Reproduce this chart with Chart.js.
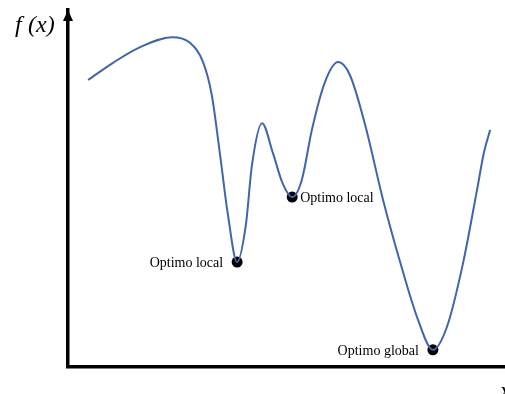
<!DOCTYPE html>
<html lang="es">
<head>
<meta charset="UTF-8">
<title>Optimos de f(x)</title>
<style>
  html, body { margin: 0; padding: 0; background: #fff; }
  #wrap { width: 505px; height: 394px; }
</style>
</head>
<body>
<div id="wrap"><canvas id="myChart" width="505" height="394"></canvas></div>
<script src="https://cdn.jsdelivr.net/npm/chart.js"></script>
<script>
// curva f(x)
const curveX = [4.6, 10.3, 16.5, 23.8, 27.9, 30.9, 32.9, 34.8, 36.6, 38.7, 40.7, 42.1, 44.4, 46.9, 49.0, 51.3, 53.5, 55.8, 58.8, 61.8, 64.5, 68.0, 72.1, 76.0, 80.1, 83.5, 86.7, 90.4, 93.6, 95.2, 96.6];
const curveY = [80.4, 85.2, 89.6, 92.4, 90.8, 85.4, 76.2, 59.4, 42.6, 29.4, 39.8, 56.6, 68.3, 59.9, 51.8, 47.6, 52.4, 66.4, 79.8, 85.4, 81.8, 67.8, 46.8, 29.4, 13.2, 4.8, 11.2, 29.1, 49.6, 60.2, 66.4];

// minimos marcados
const optX = [38.7, 51.3, 83.5];
const optY = [29.4, 47.6, 4.8];
const optLabels = ['Optimo local', 'Optimo local', 'Optimo global'];
const optSide = ['left', 'right', 'left'];

const ctx = document.getElementById('myChart');

const extras = {
  id: 'extras',
  afterDatasetsDraw(chart) {
    const c = chart.ctx;
    const a = chart.chartArea;
    c.save();
    // flecha del eje y
    c.fillStyle = '#000';
    c.beginPath();
    c.moveTo(a.left, a.top);
    c.lineTo(a.left - 5, a.top + 11);
    c.lineTo(a.left + 5, a.top + 11);
    c.closePath();
    c.fill();

    // etiquetas de los puntos
    const meta = chart.getDatasetMeta(1);
    c.font = '14px "Liberation Serif", serif';
    c.textBaseline = 'middle';
    meta.data.forEach((pt, i) => {
      if (optSide[i] === 'left') {
        c.textAlign = 'right';
        c.fillText(optLabels[i], pt.x - 14, pt.y + 1);
      } else {
        c.textAlign = 'left';
        c.fillText(optLabels[i], pt.x + 8, pt.y + 1);
      }
    });

    // nombres de los ejes
    c.font = 'italic 24px "Liberation Serif", serif';
    c.textAlign = 'left';
    c.textBaseline = 'alphabetic';
    c.fillText('f', 15, 32);
    c.fillText('(x)', 28, 32);
    c.fillText('x', 500, 398);
    c.restore();
  }
};

new Chart(ctx, {
  type: 'line',
  data: {
    datasets: [{
      data: curveX.map((x, i) => ({ x: x, y: curveY[i] })),
      borderColor: '#3F65AC',
      borderWidth: 2,
      pointRadius: 0,
      cubicInterpolationMode: 'monotone',
      fill: false
    }, {
      data: optX.map((x, i) => ({ x: x, y: optY[i] })),
      showLine: false,
      pointRadius: 5.5,
      pointBackgroundColor: '#000',
      pointBorderColor: '#000',
      pointBorderWidth: 0
    }]
  },
  options: {
    responsive: false,
    animation: false,
    layout: { autoPadding: false, padding: { left: 68, top: 10, right: 0, bottom: 27 } },
    plugins: { legend: { display: false }, tooltip: { enabled: false } },
    scales: {
      x: {
        type: 'linear', min: 0, max: 100,
        ticks: { display: false },
        grid: { display: false, drawTicks: false },
        border: { display: true, width: 3.5, color: '#000' }
      },
      y: {
        min: 0, max: 100,
        ticks: { display: false },
        grid: { display: false, drawTicks: false },
        border: { display: true, width: 3.5, color: '#000' }
      }
    }
  },
  plugins: [extras]
});
</script>
</body>
</html>
